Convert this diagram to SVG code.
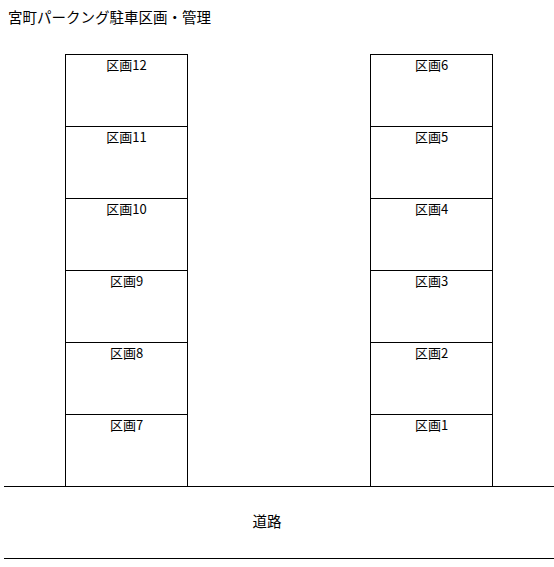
<svg xmlns="http://www.w3.org/2000/svg" width="554" height="567" viewBox="0 0 554 567">
<style>
.box{fill:#fff;stroke:#000;stroke-width:1}
.lbl{font-family:"Noto Sans CJK JP","Liberation Sans",sans-serif;font-size:13px;fill:#000;text-anchor:middle}
.title{font-family:"Noto Sans CJK JP","Liberation Sans",sans-serif;font-size:14.5px;fill:#000}
.road{stroke:#000;stroke-width:1;fill:none}
</style>
<rect width="554" height="567" fill="#fff"/>
<text class="title" x="8" y="23">宮町パークング駐車区画・管理</text>
<g id="left">
<g id="s12"><rect class="box" x="65.5" y="54.5" width="122" height="72"/><text class="lbl" x="126.5" y="70">区画12</text></g>
<g id="s11"><rect class="box" x="65.5" y="126.5" width="122" height="72"/><text class="lbl" x="126.5" y="142">区画11</text></g>
<g id="s10"><rect class="box" x="65.5" y="198.5" width="122" height="72"/><text class="lbl" x="126.5" y="214">区画10</text></g>
<g id="s9"><rect class="box" x="65.5" y="270.5" width="122" height="72"/><text class="lbl" x="126.5" y="286">区画9</text></g>
<g id="s8"><rect class="box" x="65.5" y="342.5" width="122" height="72"/><text class="lbl" x="126.5" y="358">区画8</text></g>
<g id="s7"><rect class="box" x="65.5" y="414.5" width="122" height="72"/><text class="lbl" x="126.5" y="430">区画7</text></g>
</g>
<g id="right">
<g id="s6"><rect class="box" x="370.5" y="54.5" width="122" height="72"/><text class="lbl" x="431.5" y="70">区画6</text></g>
<g id="s5"><rect class="box" x="370.5" y="126.5" width="122" height="72"/><text class="lbl" x="431.5" y="142">区画5</text></g>
<g id="s4"><rect class="box" x="370.5" y="198.5" width="122" height="72"/><text class="lbl" x="431.5" y="214">区画4</text></g>
<g id="s3"><rect class="box" x="370.5" y="270.5" width="122" height="72"/><text class="lbl" x="431.5" y="286">区画3</text></g>
<g id="s2"><rect class="box" x="370.5" y="342.5" width="122" height="72"/><text class="lbl" x="431.5" y="358">区画2</text></g>
<g id="s1"><rect class="box" x="370.5" y="414.5" width="122" height="72"/><text class="lbl" x="431.5" y="430">区画1</text></g>
</g>
<g id="road">
<line class="road" x1="4" y1="486.5" x2="554" y2="486.5"/>
<line class="road" x1="4" y1="558.5" x2="554" y2="558.5"/>
<text class="lbl" style="font-size:14.5px" x="267" y="527">道路</text>
</g>
</svg>
